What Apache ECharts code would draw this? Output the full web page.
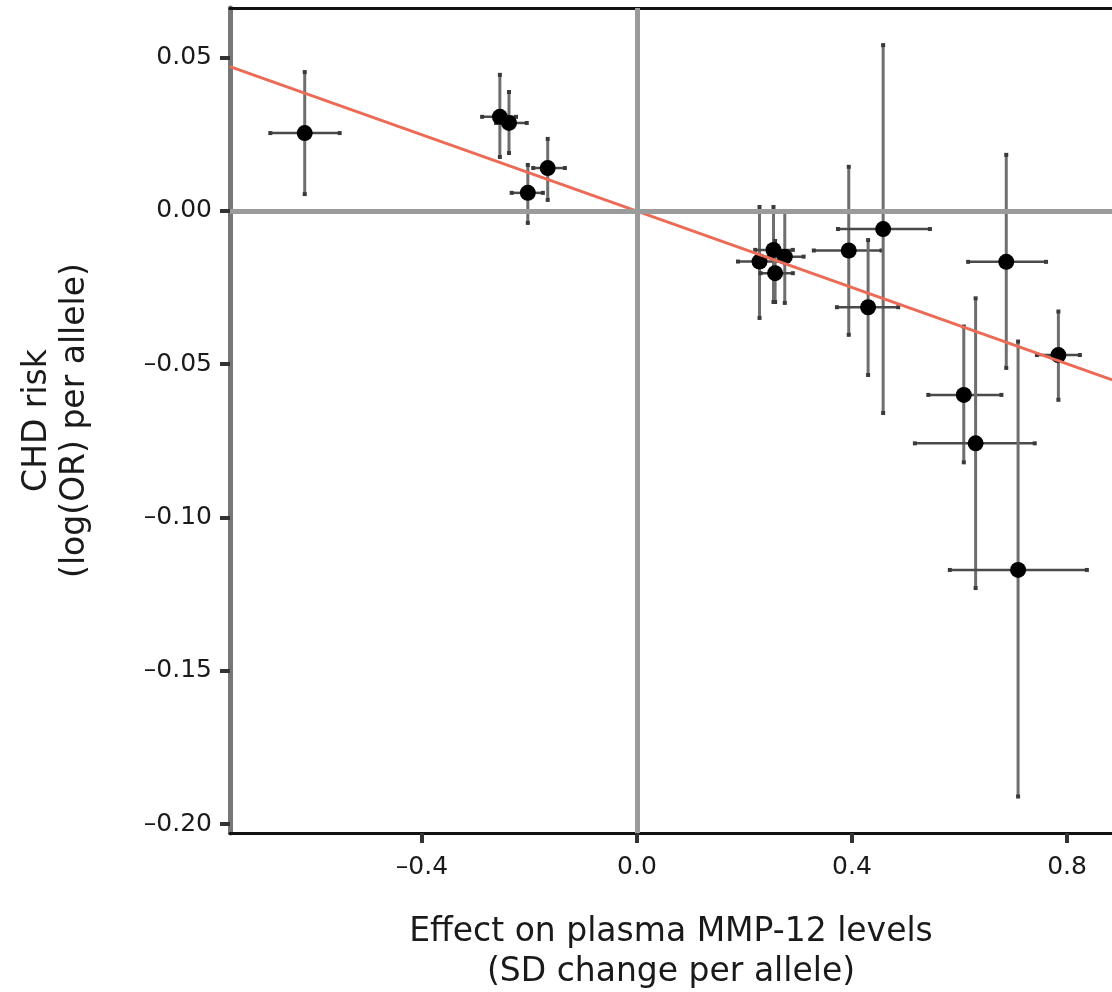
<!DOCTYPE html>
<html>
<head>
<meta charset="utf-8">
<script src="https://cdn.jsdelivr.net/npm/echarts@6/dist/echarts.min.js"></script>
<style>
  html, body { margin: 0; padding: 0; background: #ffffff; }
  #chart { width: 1112px; height: 992px; }
</style>
</head>
<body>
<div id="chart"></div>
<script>
// ---- data ----
const xEffect = [-0.618, -0.255, -0.238, -0.203, -0.166, 0.228, 0.254, 0.275, 0.257, 0.394, 0.458, 0.430, 0.687, 0.784, 0.608, 0.630, 0.709];
const yRisk   = [0.0254, 0.0307, 0.0287, 0.0059, 0.0140, -0.0165, -0.0127, -0.0149, -0.0203, -0.0129, -0.0059, -0.0314, -0.0166, -0.0470, -0.0600, -0.0758, -0.1171];
const xLow    = [-0.682, -0.288, -0.262, -0.233, -0.193, 0.188, 0.220, 0.245, 0.230, 0.329, 0.374, 0.372, 0.616, 0.744, 0.542, 0.517, 0.582];
const xHigh   = [-0.553, -0.225, -0.205, -0.175, -0.134, 0.270, 0.290, 0.310, 0.290, 0.455, 0.545, 0.486, 0.761, 0.824, 0.678, 0.740, 0.837];
const yLow    = [0.0055, 0.0176, 0.0189, -0.0039, 0.0036, -0.0349, -0.0297, -0.0300, -0.0297, -0.0404, -0.0659, -0.0535, -0.0512, -0.0616, -0.0820, -0.1230, -0.1910];
const yHigh   = [0.0453, 0.0444, 0.0388, 0.0150, 0.0235, 0.0013, 0.0013, 0.0000, -0.0098, 0.0144, 0.0541, -0.0095, 0.0183, -0.0328, -0.0377, -0.0285, -0.0426];
const fitLine = [[-0.757, 0.0471], [0.884, -0.0551]];
const xTicks = [-0.4, 0.0, 0.4, 0.8];
const yTicks = [-0.20, -0.15, -0.10, -0.05, 0.00, 0.05];
const xTitle = 'Effect on plasma MMP-12 levels\n(SD change per allele)';
const yTitle = 'CHD risk\n(log(OR) per allele)';

const FONT = 'DejaVu Sans';
const X_MIN = -0.757, X_MAX = 0.8837;
const Y_MIN = -0.2029, Y_MAX = 0.0662;

function fmtX(v) { const s = Math.abs(v).toFixed(1); return v < 0 ? '\u2013' + s : s; }
function fmtY(v) { const s = Math.abs(v).toFixed(2); return v < -1e-9 ? '\u2013' + s : s; }

const errData = xEffect.map((x, i) => [x, yRisk[i], xLow[i], xHigh[i], yLow[i], yHigh[i]]);
const pointData = xEffect.map((x, i) => [x, yRisk[i]]);

function renderErr(params, api) {
  const x = api.value(0), y = api.value(1);
  const vLo = api.coord([x, api.value(4)]), vHi = api.coord([x, api.value(5)]);
  const hLo = api.coord([api.value(2), y]), hHi = api.coord([api.value(3), y]);
  const capFill = '#3a3a3a';
  const cap = (p) => ({ type: 'rect', shape: { x: p[0] - 2, y: p[1] - 2, width: 4, height: 4 }, style: { fill: capFill } });
  return {
    type: 'group',
    children: [
      { type: 'line', shape: { x1: vLo[0], y1: vLo[1], x2: vHi[0], y2: vHi[1] }, style: { stroke: '#6e6e6e', lineWidth: 3 } },
      { type: 'line', shape: { x1: hLo[0], y1: hLo[1], x2: hHi[0], y2: hHi[1] }, style: { stroke: '#4a4a4a', lineWidth: 2.5 } },
      cap(vLo), cap(vHi), cap(hLo), cap(hHi)
    ]
  };
}

const chart = echarts.init(document.getElementById('chart'), null, { renderer: 'canvas' });
chart.setOption({
  animation: false,
  backgroundColor: '#ffffff',
  grid: { left: 230, right: 0, top: 8, bottom: 159, containLabel: false, outerBoundsMode: 'none' },
  xAxis: [{
    type: 'value', min: X_MIN, max: X_MAX, position: 'bottom',
    axisLine: { show: true, onZero: false, lineStyle: { color: '#111', width: 3 } },
    axisTick: { show: true, length: 10, customValues: xTicks, lineStyle: { color: '#333', width: 4 } },
    axisLabel: { show: true, customValues: xTicks, formatter: fmtX, margin: 22, color: '#1a1a1a', fontFamily: FONT, fontSize: 25 },
    splitLine: { show: false },
    name: xTitle, nameLocation: 'middle', nameGap: 79,
    nameTextStyle: { fontFamily: FONT, fontSize: 33, color: '#1a1a1a', lineHeight: 40 }
  }, {
    type: 'value', min: X_MIN, max: X_MAX, position: 'top',
    axisLine: { show: true, onZero: false, lineStyle: { color: '#111', width: 3 } },
    axisTick: { show: false }, axisLabel: { show: false }, splitLine: { show: false }
  }],
  yAxis: [{
    type: 'value', min: Y_MIN, max: Y_MAX,
    axisLine: { show: true, onZero: false, lineStyle: { color: '#777', width: 5 } },
    axisTick: { show: true, length: 10, customValues: yTicks, lineStyle: { color: '#333', width: 4 } },
    axisLabel: { show: true, customValues: yTicks, formatter: fmtY, margin: 18, color: '#1a1a1a', fontFamily: FONT, fontSize: 25 },
    splitLine: { show: false },
    name: yTitle, nameLocation: 'middle', nameGap: 136,
    nameTextStyle: { fontFamily: FONT, fontSize: 33, color: '#1a1a1a', lineHeight: 38 }
  }],
  series: [
    {
      type: 'line', data: [], z: 1, silent: true,
      markLine: {
        silent: true, symbol: 'none', label: { show: false },
        lineStyle: { color: '#9b9b9b', width: 5, type: 'solid' },
        data: [{ xAxis: 0 }, { yAxis: 0 }]
      }
    },
    { type: 'custom', renderItem: renderErr, data: errData, z: 2, clip: true, silent: true },
    {
      type: 'scatter', data: pointData, symbol: 'circle', symbolSize: 16,
      itemStyle: { color: '#000', opacity: 1 }, z: 3, silent: true
    },
    {
      type: 'line', data: fitLine, symbol: 'none', z: 4, silent: true,
      lineStyle: { color: '#EC6B56', width: 3 }
    }
  ]
});
</script>
</body>
</html>
